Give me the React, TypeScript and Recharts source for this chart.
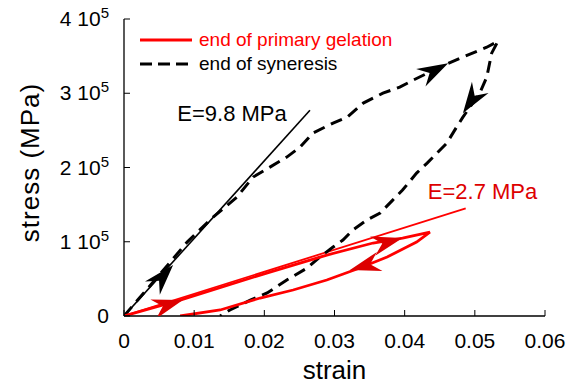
import React from 'react';
import { ComposedChart, Line, Scatter, XAxis, YAxis, ReferenceDot, Legend } from 'recharts';

const FONT = '"Liberation Sans", Arial, Helvetica, sans-serif';
const RED = '#ff0000';
const RED_DARK = '#dd0000';

const xTicks = [0, 0.01, 0.02, 0.03, 0.04, 0.05, 0.06];
const yTicks = [0, 100000, 200000, 300000, 400000];

// end of primary gelation: loading then unloading
const primaryGelation = [
  { x: 0, y: 0 },
  { x: 0.008, y: 21500 },
  { x: 0.0208, y: 59200 },
  { x: 0.0289, y: 82100 },
  { x: 0.0355, y: 98300 },
  { x: 0.0397, y: 105000 },
  { x: 0.0436, y: 113100 },
  { x: 0.0417, y: 99600 },
  { x: 0.0403, y: 92900 },
  { x: 0.0375, y: 79400 },
  { x: 0.0336, y: 64600 },
  { x: 0.0289, y: 48500 },
  { x: 0.0241, y: 35000 },
  { x: 0.0194, y: 24200 },
  { x: 0.0137, y: 8100 },
  { x: 0.008, y: 0 },
];

// end of syneresis
const syneresis = [
  { x: 0, y: 0 },
  { x: 0.0066, y: 72700 },
  { x: 0.009, y: 99600 },
  { x: 0.0127, y: 133200 },
  { x: 0.0161, y: 160200 },
  { x: 0.0184, y: 187100 },
  { x: 0.0208, y: 200500 },
  { x: 0.0232, y: 214000 },
  { x: 0.0251, y: 227500 },
  { x: 0.0269, y: 246300 },
  { x: 0.0298, y: 259800 },
  { x: 0.0318, y: 267800 },
  { x: 0.0341, y: 286700 },
  { x: 0.0369, y: 300100 },
  { x: 0.0393, y: 308200 },
  { x: 0.0412, y: 317600 },
  { x: 0.045, y: 335100 },
  { x: 0.0479, y: 347200 },
  { x: 0.0517, y: 362000 },
  { x: 0.0533, y: 370100 },
  { x: 0.0524, y: 354000 },
  { x: 0.0517, y: 321700 },
  { x: 0.0507, y: 300100 },
  { x: 0.0493, y: 281300 },
  { x: 0.0483, y: 267800 },
  { x: 0.0474, y: 254400 },
  { x: 0.046, y: 232800 },
  { x: 0.0446, y: 219400 },
  { x: 0.0432, y: 205900 },
  { x: 0.0417, y: 192500 },
  { x: 0.0397, y: 169600 },
  { x: 0.0383, y: 156100 },
  { x: 0.0365, y: 138600 },
  { x: 0.0346, y: 129200 },
  { x: 0.0326, y: 115700 },
  { x: 0.0312, y: 102300 },
  { x: 0.0298, y: 92900 },
  { x: 0.0279, y: 79400 },
  { x: 0.0261, y: 64600 },
  { x: 0.0232, y: 48500 },
  { x: 0.0204, y: 31000 },
  { x: 0.018, y: 21500 },
  { x: 0.0151, y: 8100 },
  { x: 0.0137, y: 0 },
];

// modulus fits
const fitSyneresis = [
  { x: 0, y: 0 },
  { x: 0.0265, y: 277000 },
];
const fitGelation = [
  { x: 0, y: 0 },
  { x: 0.0487, y: 145000 },
];

// arrow heads (tip position + screen direction in degrees)
const blackArrows = [
  { x: 0.007, y: 68600, angle: -48 },
  { x: 0.0462, y: 340500, angle: -28 },
  { x: 0.0483, y: 273200, angle: 124 },
];
const redArrows = [
  { x: 0.0084, y: 21500, angle: -17 },
  { x: 0.0397, y: 105000, angle: -15 },
  { x: 0.0322, y: 61900, angle: 164 },
];

const annotations = [
  { x: 0.0076, y: 273000, text: 'E=9.8 MPa', color: '#000' },
  { x: 0.0433, y: 168000, text: 'E=2.7 MPa', color: RED_DARK },
];

const legendItems = [
  { label: 'end of primary gelation', color: RED, dash: undefined, textColor: RED },
  { label: 'end of syneresis', color: '#000', dash: '12 6', textColor: '#000' },
];

const arrowShape = (color: string) => (props: any) => {
  const { cx, cy, payload } = props;
  if (cx == null || cy == null) return <g />;
  return (
    <g transform={`translate(${cx},${cy}) rotate(${payload.angle})`}>
      <polygon points="0,0 -31,-10 -21,0 -31,10" fill={color} />
    </g>
  );
};

const YTick = (props: any) => {
  const { x, y, payload } = props;
  const v = payload.value;
  return (
    <text x={x} y={y} dy={7} textAnchor="end" fontSize={21} fontFamily={FONT} fill="#000">
      {v === 0 ? '0' : `${Math.round(v / 100000)} 10`}
      {v !== 0 && (
        <tspan dy={-8} fontSize={15}>
          5
        </tspan>
      )}
    </text>
  );
};

const XTick = (props: any) => {
  const { x, y, payload } = props;
  return (
    <text x={x} y={y} dy={15} textAnchor="middle" fontSize={21} fontFamily={FONT} fill="#000">
      {payload.value === 0 ? '0' : String(payload.value)}
    </text>
  );
};

const LegendBox = () => (
  <svg width={270} height={48}>
    {legendItems.map((it, i) => (
      <g key={it.label}>
        <line x1={0} x2={52} y1={12 + i * 24} y2={12 + i * 24} stroke={it.color} strokeWidth={3} strokeDasharray={it.dash} />
        <text x={59} y={18 + i * 24} fontSize={19} fontFamily={FONT} fill={it.textColor}>
          {it.label}
        </text>
      </g>
    ))}
  </svg>
);

export default function App() {
  return (
    <div style={{ position: 'absolute', left: 0, top: 0, background: '#fff' }}>
      <ComposedChart width={567} height={385} margin={{ top: 19, right: 22, bottom: 0, left: 0 }}>
        <XAxis
          dataKey="x"
          type="number"
          domain={[0, 0.06]}
          ticks={xTicks}
          allowDataOverflow
          height={69}
          axisLine={{ stroke: '#000', strokeWidth: 1.3 }}
          tickLine={{ stroke: '#000' }}
          tickSize={-6}
          tickMargin={23}
          tick={<XTick />}
          label={(p: any) => {
            const vb = p.viewBox;
            return (
              <text x={vb.x + vb.width / 2} y={vb.y + 63} textAnchor="middle" fontSize={26} fontFamily={FONT} fill="#000">
                strain
              </text>
            );
          }}
        />
        <XAxis
          xAxisId="top"
          orientation="top"
          type="number"
          domain={[0, 0.06]}
          ticks={xTicks}
          height={0}
          axisLine={{ stroke: '#000', strokeWidth: 1.3 }}
          tickLine={{ stroke: '#000' }}
          tickSize={-6}
          tickFormatter={() => ''}
        />
        <YAxis
          dataKey="y"
          type="number"
          domain={[0, 400000]}
          ticks={yTicks}
          allowDataOverflow
          width={124}
          axisLine={{ stroke: '#000', strokeWidth: 1.3 }}
          tickLine={{ stroke: '#000' }}
          tickSize={-6}
          tickMargin={21}
          tick={<YTick />}
          label={(p: any) => {
            const vb = p.viewBox;
            const cx = 39;
            const cy = vb.y + vb.height / 2 - 5;
            return (
              <text
                x={cx}
                y={cy}
                transform={`rotate(-90 ${cx} ${cy})`}
                textAnchor="middle"
                fontSize={26}
                letterSpacing={1}
                fontFamily={FONT}
                fill="#000"
              >
                stress (MPa)
              </text>
            );
          }}
        />
        <YAxis
          yAxisId="right"
          orientation="right"
          type="number"
          domain={[0, 400000]}
          ticks={yTicks}
          width={0}
          axisLine={{ stroke: '#000', strokeWidth: 1.3 }}
          tickLine={{ stroke: '#000' }}
          tickSize={-6}
          tickFormatter={() => ''}
        />
        <Legend
          layout="horizontal"
          verticalAlign="middle"
          align="center"
          content={() => <LegendBox />}
          wrapperStyle={{ position: 'absolute', left: 140, top: 28, width: 270, height: 48 }}
        />
        <Line data={fitSyneresis} dataKey="y" type="linear" stroke="#000" strokeWidth={1.6} dot={false} legendType="none" isAnimationActive={false} />
        <Line data={fitGelation} dataKey="y" type="linear" stroke={RED} strokeWidth={1.8} dot={false} legendType="none" isAnimationActive={false} />
        <Line
          data={syneresis}
          dataKey="y"
          name="end of syneresis"
          type="linear"
          stroke="#000"
          strokeWidth={3}
          strokeDasharray="12 7"
          dot={false}
          isAnimationActive={false}
        />
        <Line
          data={primaryGelation}
          dataKey="y"
          name="end of primary gelation"
          type="linear"
          stroke={RED}
          strokeWidth={2.8}
          dot={false}
          isAnimationActive={false}
        />
        <Scatter data={blackArrows} dataKey="y" shape={arrowShape('#000')} legendType="none" isAnimationActive={false} />
        <Scatter data={redArrows} dataKey="y" shape={arrowShape(RED_DARK)} legendType="none" isAnimationActive={false} />
        {annotations.map((a) => (
          <ReferenceDot
            key={a.text}
            x={a.x}
            y={a.y}
            r={0}
            fill="none"
            stroke="none"
            label={(p: any) => (
              <text x={p.viewBox.x} y={p.viewBox.y + 8} fontSize={22} fontFamily={FONT} fill={a.color}>
                {a.text}
              </text>
            )}
          />
        ))}
      </ComposedChart>
    </div>
  );
}
